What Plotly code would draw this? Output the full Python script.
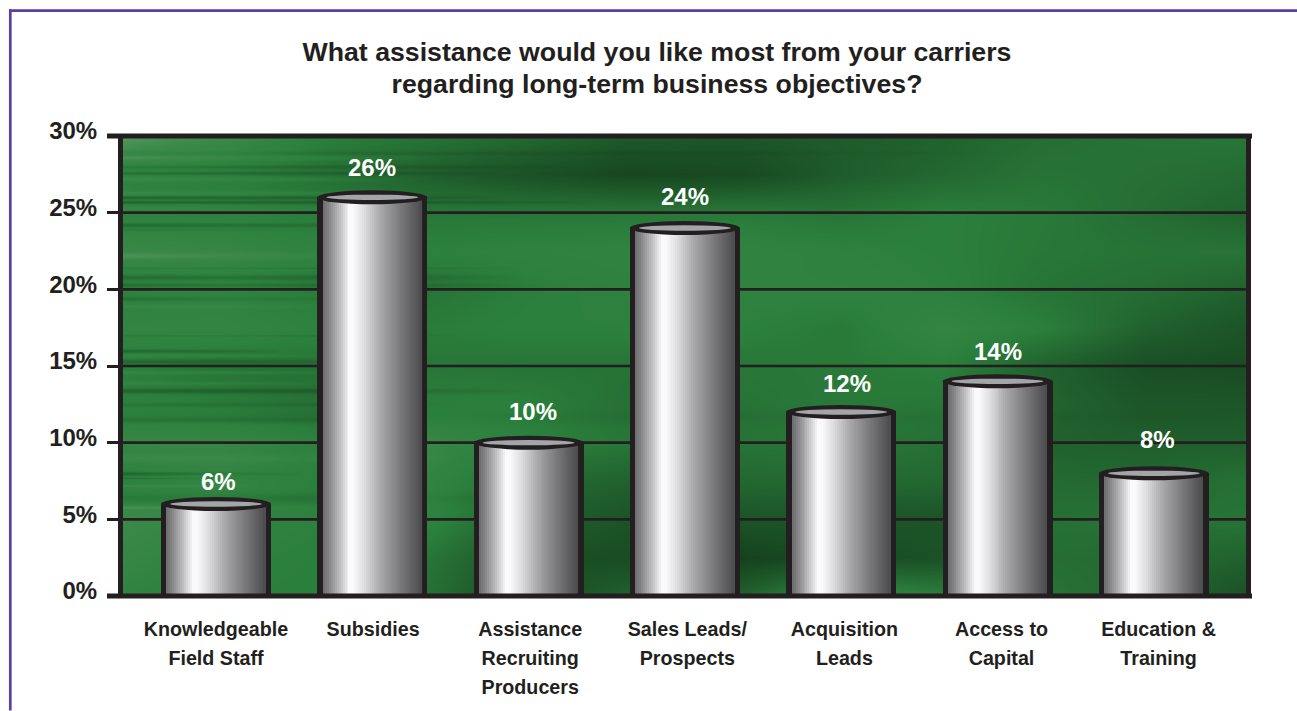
import numpy as np
import plotly.graph_objects as go

# Survey results
CATEGORIES = [
    "Knowledgeable<br>Field Staff", "Subsidies", "Assistance<br>Recruiting<br>Producers",
    "Sales Leads/<br>Prospects", "Acquisition<br>Leads", "Access to<br>Capital",
    "Education &<br>Training",
]
VALUES = [6, 26, 10, 24, 12, 14, 8]
Y_TICKS = [0, 5, 10, 15, 20, 25, 30]
TITLE = "What assistance would you like most from your carriers<br>regarding long-term business objectives?"

# Page geometry, in pixels
W, H = 1297, 711
PLOT_L, PLOT_R, PLOT_T, PLOT_B = 123, 1246, 135.8, 596.3
BAR_C0, BAR_STEP, BAR_W, BAR_EDGE = 216.0, 156.3, 110.0, 5.4
LABEL_STEP = 157.1
INK = "#231f20"
FONT = "Liberation Sans"

X_RANGE = [(PLOT_L - BAR_C0) / BAR_STEP, (PLOT_R - BAR_C0) / BAR_STEP]
POS = list(range(len(VALUES)))
to_paper_x = lambda px: (px - PLOT_L) / (PLOT_R - PLOT_L)
to_paper_y = lambda py: (PLOT_B - py) / (PLOT_B - PLOT_T)
to_cat_x = lambda px: (px - BAR_C0) / BAR_STEP


def sized(text, px):
    # Glyph size set apart from the line pitch, which follows the base font size
    return "<br>".join(f'<span style="font-size:{px}px">{line}</span>' for line in text.split("<br>"))


# Backdrop brightness: rows run from 30% down to 0%, columns left to right
BG_ROWS = [30, 27.5, 25, 22.5, 20, 17.5, 15, 12.5, 10, 7.5, 5, 2.5, 0]
BG_COLS = [0, .09, .18, .27, .36, .45, .55, .64, .73, .82, .91, 1]
BG_LEVEL = [
    [.88, .72, .50, .42, .34, .24, .22, .26, .30, .38, .42, .44],
    [.56, .50, .40, .28, .18, .10, .12, .26, .34, .42, .40, .36],
    [.56, .54, .48, .44, .44, .44, .46, .42, .50, .46, .38, .30],
    [.68, .64, .56, .52, .55, .58, .58, .54, .50, .45, .42, .42],
    [.52, .56, .46, .42, .50, .54, .56, .56, .52, .42, .38, .30],
    [.62, .62, .54, .48, .52, .52, .52, .46, .62, .50, .30, .20],
    [.50, .42, .40, .44, .42, .42, .44, .46, .50, .30, .16, .14],
    [.54, .48, .40, .50, .50, .40, .42, .46, .44, .32, .22, .22],
    [.64, .64, .52, .66, .52, .44, .42, .44, .40, .30, .28, .28],
    [.54, .62, .50, .60, .36, .30, .34, .36, .34, .36, .34, .40],
    [.74, .60, .52, .56, .30, .20, .20, .22, .20, .40, .42, .42],
    [.66, .54, .50, .44, .18, .14, .06, .14, .18, .38, .36, .30],
    [.58, .50, .50, .40, .12, .30, .30, .64, .50, .42, .34, .18],
]

# Horizontal streaks: level (%), half thickness (%), fade-out fraction, strength
BG_STREAKS = [
    (28.6, .16, .28, .12), (28.0, .13, .40, -.15), (27.6, .11, .34, -.17),
    (27.2, .16, .26, .14), (26.3, .14, .24, .12), (26.0, .12, .34, -.24),
    (25.7, .11, .42, -.24), (25.3, .14, .20, .10), (24.2, .16, .24, -.24),
    (23.9, .09, .18, -.14), (22.2, .25, .26, .16), (21.4, .07, .36, -.12),
    (20.8, .20, .36, -.20), (20.3, .14, .38, -.16), (19.4, .14, .18, -.15),
    (18.9, .11, .24, .10), (17.0, .07, .30, -.12), (16.0, .12, .14, -.20),
    (15.7, .09, .20, .10), (15.3, .16, .24, -.17), (14.6, .11, .22, .14),
    (13.9, .11, .18, .10), (13.4, .17, .36, -.20), (12.5, .14, .30, -.10),
    (11.5, .20, .26, -.12), (9.0, .25, .30, .12), (8.0, .14, .16, -.24),
    (7.7, .07, .14, -.15), (7.2, .09, .12, .14), (6.4, .40, .34, -.16),
    (5.8, .11, .18, .16), (28.9, .14, .80, -.08), (11.7, .45, 1.0, -.05),
]

grid_y = np.linspace(0, 30, 461)
grid_u = np.linspace(0, 1, 281)
rows = np.array([np.interp(grid_u, BG_COLS, r) for r in BG_LEVEL])
level = np.array([np.interp(grid_y, BG_ROWS[::-1], rows[::-1, c]) for c in range(rows.shape[1])]).T
for y0, half, fade, amount in BG_STREAKS:
    across = np.exp(-((grid_y - y0) / half) ** 2)
    along = np.clip(1 - grid_u / fade, 0, 1) ** 0.6
    level += amount * np.outer(across, along)
level = np.clip(level, 0, 1)

# Cylinder shading, left to right across the body
SHADE_AT = [0, .05, .17, .27, .31, .42, .58, .80, .92, 1]
SHADE_GREY = [108, 128, 190, 250, 250, 222, 170, 118, 92, 76]

fig = go.Figure()

fig.add_trace(go.Heatmap(
    x=X_RANGE[0] + grid_u * (X_RANGE[1] - X_RANGE[0]), y=grid_y, z=level,
    zmin=0, zmax=1, zsmooth="best", showscale=False, hoverinfo="skip",
    colorscale=[[0, "#123a19"], [.25, "#1e5a2a"], [.5, "#2b7f3c"], [.75, "#3d8a4b"], [1, "#6da073"]],
))

# Rules across the backdrop, passing behind the cylinders
for tick in Y_TICKS[1:-1]:
    fig.add_trace(go.Scatter(
        x=[X_RANGE[0], to_cat_x(1251.5)], y=[tick, tick], mode="lines", cliponaxis=False,
        line=dict(color=INK, width=2.6), hoverinfo="skip", showlegend=False,
    ))

# Each cylinder body: a dark casing with a stack of narrowing bars painting the shading
unit = 1 / BAR_STEP
fig.add_trace(go.Bar(
    x=POS, y=VALUES, width=BAR_W * unit, marker=dict(color=INK, line=dict(width=0)),
    xaxis="x2", yaxis="y2", hoverinfo="skip", showlegend=False,
))
N_STRIPS = 50
inner = BAR_W - 2 * BAR_EDGE
for k in range(N_STRIPS):
    grey = int(round(np.interp((k + .5) / N_STRIPS, SHADE_AT, SHADE_GREY)))
    left = -inner / 2 + inner * k / N_STRIPS
    fig.add_trace(go.Bar(
        x=POS, y=VALUES, offset=left * unit, width=(inner / 2 - left) * unit,
        marker=dict(color=f"rgb({grey},{grey},{min(grey + 3, 255)})", line=dict(width=0)),
        xaxis="x2", yaxis="y2", hoverinfo="skip", showlegend=False,
    ))

shapes = []
# Open rim on top of each cylinder
for p, v in zip(POS, VALUES):
    half = (BAR_W / 2) * unit
    shapes.append(dict(type="circle", xref="x2", yref="y2", ysizemode="pixel", yanchor=v,
                       x0=p - half, x1=p + half, y0=-7, y1=7, layer="above",
                       fillcolor=INK, line=dict(width=0)))
    half = 46 * unit
    shapes.append(dict(type="circle", xref="x2", yref="y2", ysizemode="pixel", yanchor=v,
                       x0=p - half, x1=p + half, y0=-2.7, y1=2.7, layer="above",
                       fillcolor="#a4a5a9", line=dict(width=0)))

# Heavy rules at the top and bottom of the scale, and the page border
for tick in (Y_TICKS[0], Y_TICKS[-1]):
    shapes.append(dict(type="line", xref="paper", yref="paper", layer="above",
                       y0=tick / Y_TICKS[-1], y1=tick / Y_TICKS[-1],
                       x0=to_paper_x(107), x1=to_paper_x(1252), line=dict(color=INK, width=5)))
BORDER = "#5a3fa2"
shapes.append(dict(type="line", xref="paper", yref="paper", layer="above",
                   x0=to_paper_x(10.3), x1=to_paper_x(10.3), y0=to_paper_y(9), y1=to_paper_y(H),
                   line=dict(color=BORDER, width=2.7)))
shapes.append(dict(type="line", xref="paper", yref="paper", layer="above",
                   x0=to_paper_x(9), x1=to_paper_x(W), y0=to_paper_y(10.3), y1=to_paper_y(10.3),
                   line=dict(color=BORDER, width=2.7)))

# Value captions above the cylinders
CAPTION_LIFT = [23, 30, 31, 32, 29, 30, 34]
CAPTION_NUDGE = [2.7, 0, 4, 0, 5.5, 0, 4]
annotations = [
    dict(x=p, y=v, xref="x2", yref="y2", text=f"{v}%", showarrow=False,
         yanchor="middle", yshift=lift, xshift=nudge,
         font=dict(family=FONT, size=24, color="white", weight="bold"))
    for p, v, lift, nudge in zip(POS, VALUES, CAPTION_LIFT, CAPTION_NUDGE)
]

fig.update_layout(
    width=W, height=H, autosize=False, paper_bgcolor="white", plot_bgcolor="white",
    margin=dict(l=PLOT_L, r=W - PLOT_R, t=PLOT_T, b=H - PLOT_B, pad=0, autoexpand=False),
    showlegend=False, barmode="overlay", bargap=0,
    title=dict(text=sized(TITLE, 26.7), x=(657 / W), xanchor="center", y=1 - 61 / H, yanchor="top",
               font=dict(family=FONT, size=24.6, color=INK, weight="bold")),
    xaxis=dict(range=X_RANGE, tickmode="array", tickvals=[to_cat_x(BAR_C0 + LABEL_STEP * p) for p in POS],
               ticktext=[sized(c, 19.7) for c in CATEGORIES],
               showgrid=False, zeroline=False, ticks="", ticklabelstandoff=17, automargin=False,
               tickfont=dict(family=FONT, size=22.3, color=INK, weight="bold")),
    yaxis=dict(range=[0, 30], tickmode="array", tickvals=Y_TICKS, automargin=False,
               ticktext=[f"{t}%" for t in Y_TICKS], showgrid=False, zeroline=False,
               showline=True, mirror=True, linewidth=5, linecolor=INK,
               ticks="outside", ticklen=11, tickwidth=2.6, tickcolor=INK,
               ticklabelstandoff=5, ticklabelshift=-5,
               tickfont=dict(family=FONT, size=24, color=INK, weight="bold")),
    xaxis2=dict(range=X_RANGE, overlaying="x", visible=False),
    yaxis2=dict(range=[0, 30], overlaying="y", visible=False),
    shapes=shapes, annotations=annotations,
)

fig.write_html("out.html", config=dict(displayModeBar=False))
